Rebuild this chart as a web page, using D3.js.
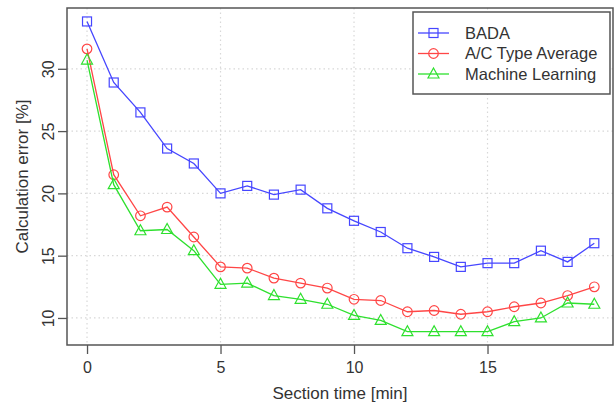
<!DOCTYPE html>
<html><head><meta charset="utf-8">
<script src="https://cdn.jsdelivr.net/npm/d3@7"></script>
<style>body{margin:0;background:#fff}svg{display:block}text{font-family:"Liberation Sans",Arial,sans-serif}</style>
</head><body><svg id="c" width="616" height="407"></svg>
<script>
const sectionTime = [0,1,2,3,4,5,6,7,8,9,10,11,12,13,14,15,16,17,18,19];
const bada = [33.8,28.9,26.5,23.6,22.4,20.0,20.6,19.9,20.3,18.8,17.8,16.9,15.6,14.9,14.1,14.4,14.4,15.4,14.5,16.0];
const acTypeAverage = [31.6,21.5,18.2,18.9,16.5,14.1,14.0,13.2,12.8,12.4,11.5,11.4,10.5,10.6,10.3,10.5,10.9,11.2,11.8,12.5];
const machineLearning = [30.7,20.7,17.0,17.1,15.4,12.7,12.8,11.8,11.5,11.1,10.2,9.8,8.9,8.9,8.9,8.9,9.7,10.0,11.2,11.1];
const xTicks = [0,5,10,15];
const yTicks = [10,15,20,25,30];
const seriesNames = ["BADA","A/C Type Average","Machine Learning"];
const seriesColors = ["#4646ff","#ff4646","#2ee02e"];
const seriesShapes = ["square","circle","triangle"];

const svg = d3.select("#c");
const L=67,R=613,T=8,B=345;
const x = d3.scaleLinear().domain([-0.75,19.7]).range([L,R]);
const y = d3.scaleLinear().domain([7.83,34.88]).range([B,T]);

// grid
const g = svg.append("g");
g.selectAll("line.gx").data(xTicks).join("line")
 .attr("x1",d=>x(d)).attr("x2",d=>x(d)).attr("y1",T).attr("y2",B)
 .attr("stroke","#d8d8d8").attr("stroke-dasharray","1.5,3").attr("stroke-width",1.2);
g.selectAll("line.gy").data(yTicks).join("line")
 .attr("y1",d=>y(d)).attr("y2",d=>y(d)).attr("x1",L).attr("x2",R)
 .attr("stroke","#d8d8d8").attr("stroke-dasharray","1.5,3").attr("stroke-width",1.2);

// axes
const xAxis = svg.append("g").attr("transform",`translate(0,${B})`)
 .call(d3.axisBottom(x).tickValues(xTicks).tickSize(9).tickPadding(5));
const yAxis = svg.append("g").attr("transform",`translate(${L},0)`)
 .call(d3.axisLeft(y).tickValues(yTicks).tickSize(9).tickPadding(4));
[xAxis,yAxis].forEach(a=>{
  a.select(".domain").remove();
  a.selectAll(".tick line").attr("stroke","#555").attr("stroke-width",1.3);
  a.selectAll(".tick text").attr("fill","#333").style("font-size","16px");
});
yAxis.selectAll(".tick text").attr("text-anchor","middle")
 .attr("transform","translate(-19,0) rotate(-90)").attr("x",0).attr("dy","0.35em");
xAxis.selectAll(".tick text").attr("dy","0.85em");

// frame
svg.append("rect").attr("x",L).attr("y",T).attr("width",R-L).attr("height",B-T)
 .attr("fill","none").attr("stroke","#555").attr("stroke-width",1.5);

// labels
svg.append("text").attr("x",(L+R)/2).attr("y",399).attr("text-anchor","middle")
 .attr("fill","#333").style("font-size","17px").text("Section time [min]");
svg.append("text").attr("transform",`translate(28,${(T+B)/2}) rotate(-90)`).attr("text-anchor","middle")
 .attr("fill","#333").style("font-size","17px").text("Calculation error [%]");

function marker(sel, shape, color){
  if(shape==="square") sel.append("rect").attr("x",-4.5).attr("y",-4.5).attr("width",9).attr("height",9);
  else if(shape==="circle") sel.append("circle").attr("r",4.8);
  else sel.append("path").attr("d","M0,-6L5.5,4L-5.5,4Z");
  sel.selectAll("*").attr("fill","none").attr("stroke",color).attr("stroke-width",1.2);
}

const allSeries = [bada, acTypeAverage, machineLearning];
const line = d3.line().x((d,i)=>x(sectionTime[i])).y(d=>y(d));
allSeries.forEach((s,k)=>{
  svg.append("path").datum(s).attr("d",line).attr("fill","none")
    .attr("stroke",seriesColors[k]).attr("stroke-width",1.3);
  s.forEach((v,i)=>{
    const m = svg.append("g").attr("transform",`translate(${x(sectionTime[i])},${y(v)})`);
    marker(m, seriesShapes[k], seriesColors[k]);
  });
});

// legend
const lg = svg.append("g");
lg.append("rect").attr("x",413).attr("y",12).attr("width",197).attr("height",82)
 .attr("fill","#fff").attr("stroke","#555").attr("stroke-width",1.5);
seriesNames.forEach((n,k)=>{
  const yy = 33 + k*20.5;
  lg.append("line").attr("x1",418).attr("x2",449).attr("y1",yy).attr("y2",yy)
    .attr("stroke",seriesColors[k]).attr("stroke-width",1.3);
  const m = lg.append("g").attr("transform",`translate(433.5,${yy})`);
  marker(m, seriesShapes[k], seriesColors[k]);
  lg.append("text").attr("x",465).attr("y",yy).attr("dy","0.35em").attr("fill","#333")
    .style("font-size","16.5px").text(n);
});
</script></body></html>
